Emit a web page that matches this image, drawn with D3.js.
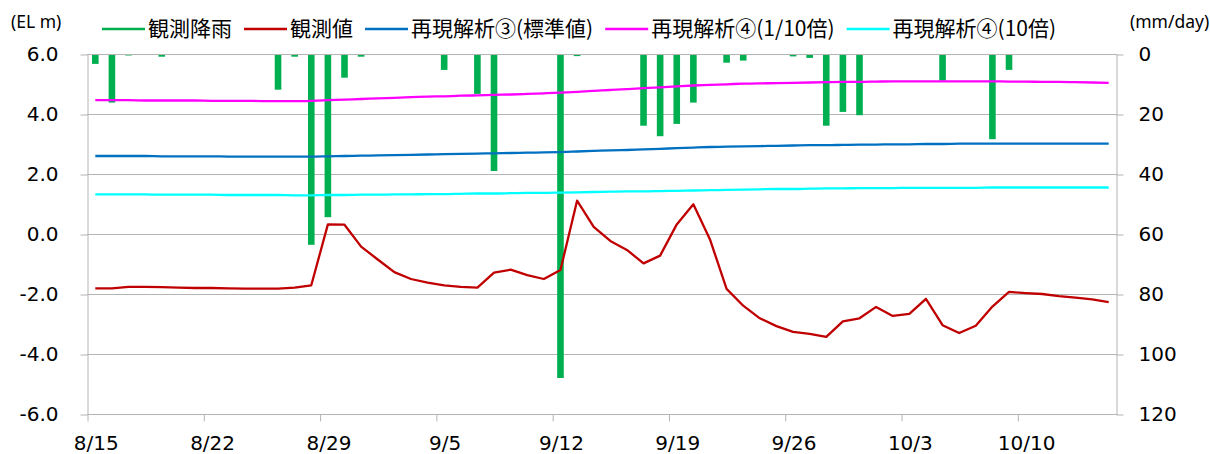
<!DOCTYPE html>
<html>
<head>
<meta charset="utf-8">
<script src="https://cdn.jsdelivr.net/npm/d3@7"></script>
<style>
  html, body { margin: 0; padding: 0; background: #ffffff; }
  svg { display: block; }
</style>
</head>
<body>
<svg id="chart" width="1210" height="454"></svg>
<script>
// Daily categories (month/day)
const dates = [
  "8/15","8/16","8/17","8/18","8/19","8/20","8/21","8/22","8/23","8/24","8/25","8/26","8/27","8/28","8/29","8/30","8/31",
  "9/1","9/2","9/3","9/4","9/5","9/6","9/7","9/8","9/9","9/10","9/11","9/12","9/13","9/14","9/15","9/16","9/17","9/18",
  "9/19","9/20","9/21","9/22","9/23","9/24","9/25","9/26","9/27","9/28","9/29","9/30",
  "10/1","10/2","10/3","10/4","10/5","10/6","10/7","10/8","10/9","10/10","10/11","10/12","10/13","10/14","10/15"
];

// Observed daily rainfall (mm/day)
const rainfall = [
  3.3, 16.2, 0.5, 0, 0.9, 0, 0, 0, 0, 0, 0, 11.9, 0.9, 63.6, 54.4, 7.9, 0.9,
  0, 0, 0, 0, 5.3, 0, 13.3, 39.0, 0, 0, 0, 108.0, 0.7, 0, 0, 0, 23.9, 27.4,
  23.3, 16.2, 0.3, 2.9, 2.2, 0, 0, 0.8, 1.3, 23.9, 19.3, 20.4,
  0, 0, 0, 0, 8.9, 0.3, 0, 28.4, 5.3, 0, 0, 0.3, 0, 0, 0
];

// Observed water level (EL m)
const observed = [
  -1.81, -1.81, -1.76, -1.76, -1.77, -1.79, -1.80, -1.80, -1.81, -1.82, -1.82, -1.82, -1.79, -1.71, 0.32, 0.31, -0.42,
  -0.85, -1.27, -1.50, -1.62, -1.71, -1.76, -1.79, -1.29, -1.19, -1.37, -1.50, -1.20, 1.11, 0.24, -0.23, -0.53, -0.98, -0.72,
  0.32, 0.99, -0.18, -1.83, -2.39, -2.81, -3.07, -3.26, -3.33, -3.43, -2.91, -2.81,
  -2.43, -2.73, -2.66, -2.16, -3.04, -3.30, -3.06, -2.42, -1.93, -1.97, -2.00, -2.07, -2.12, -2.18, -2.27
];

// Reanalysis case 3 (standard value)
const caseStandard = [
  2.60, 2.60, 2.60, 2.60, 2.59, 2.59, 2.59, 2.59, 2.58, 2.58, 2.58, 2.58, 2.58, 2.58, 2.59, 2.60, 2.61,
  2.62, 2.63, 2.64, 2.65, 2.66, 2.67, 2.68, 2.69, 2.70, 2.71, 2.72, 2.73, 2.75, 2.77, 2.79, 2.80, 2.82, 2.84,
  2.86, 2.88, 2.90, 2.91, 2.92, 2.93, 2.94, 2.95, 2.96, 2.96, 2.97, 2.98,
  2.98, 2.99, 2.99, 3.00, 3.00, 3.01, 3.01, 3.01, 3.01, 3.01, 3.01, 3.01, 3.01, 3.01, 3.01
];

// Reanalysis case 4 (1/10x)
const caseTenth = [
  4.46, 4.46, 4.46, 4.45, 4.45, 4.45, 4.45, 4.44, 4.44, 4.44, 4.43, 4.43, 4.43, 4.44, 4.46, 4.48, 4.50,
  4.52, 4.54, 4.56, 4.58, 4.59, 4.61, 4.62, 4.64, 4.65, 4.67, 4.69, 4.71, 4.74, 4.77, 4.80, 4.83, 4.86, 4.89,
  4.92, 4.95, 4.97, 4.99, 5.01, 5.02, 5.03, 5.04, 5.05, 5.06, 5.07, 5.07,
  5.08, 5.09, 5.09, 5.09, 5.09, 5.09, 5.09, 5.09, 5.08, 5.08, 5.07, 5.07, 5.06, 5.05, 5.04
];

// Reanalysis case 4 (10x)
const caseTenfold = [
  1.32, 1.32, 1.32, 1.32, 1.31, 1.31, 1.31, 1.31, 1.30, 1.30, 1.30, 1.30, 1.29, 1.29, 1.30, 1.30, 1.31,
  1.31, 1.32, 1.32, 1.33, 1.33, 1.34, 1.35, 1.35, 1.36, 1.37, 1.37, 1.38, 1.39, 1.40, 1.41, 1.42, 1.42, 1.43,
  1.44, 1.45, 1.46, 1.47, 1.48, 1.49, 1.50, 1.50, 1.51, 1.52, 1.52, 1.53,
  1.53, 1.53, 1.54, 1.54, 1.54, 1.54, 1.54, 1.55, 1.55, 1.55, 1.55, 1.55, 1.55, 1.55, 1.55
];

const dateTicks = ["8/15","8/22","8/29","9/5","9/12","9/19","9/26","10/3","10/10"];
const levelTicks = [-6, -4, -2, 0, 2, 4, 6];
const rainTicks = [0, 20, 40, 60, 80, 100, 120];

const legendItems = [
  { label: "観測降雨", color: "#00B050" },
  { label: "観測値", color: "#C00000" },
  { label: "再現解析③(標準値)", color: "#0070C0" },
  { label: "再現解析④(1/10倍)", color: "#FF00FF" },
  { label: "再現解析④(10倍)", color: "#00FFFF" }
];

// ---- layout ----
const plot = { left: 87, right: 1117, top: 54, bottom: 414 };
const numFont = "'DejaVu Sans', Verdana, sans-serif";
const jpFont = "'Noto Sans CJK JP', 'Noto Sans', sans-serif";
const gridColor = "#B4B4B4";

const parse = s => d3.timeParse("%Y/%m/%d")("2021/" + s);
const days = dates.map(parse);
const endDay = d3.timeDay.offset(days[days.length - 1], 1);

const x = d3.scaleTime().domain([days[0], endDay]).range([plot.left, plot.right]);
const dayW = x(d3.timeDay.offset(days[0], 1)) - x(days[0]);
const cx = d => x(d) + dayW / 2;

const y = d3.scaleLinear().domain([-6, 6]).range([plot.bottom, plot.top]);
const yR = d3.scaleLinear().domain([0, 120]).range([plot.top, plot.bottom]);

const svg = d3.select("#chart");
svg.append("rect").attr("width", 1210).attr("height", 454).attr("fill", "#fff");

// horizontal gridlines
svg.append("g")
  .selectAll("line")
  .data(levelTicks)
  .join("line")
  .attr("x1", plot.left).attr("x2", plot.right)
  .attr("y1", d => Math.round(y(d)) + 0.5).attr("y2", d => Math.round(y(d)) + 0.5)
  .attr("stroke", gridColor).attr("stroke-width", 1);

// left axis
const gL = svg.append("g")
  .attr("transform", `translate(${plot.left + 0.5},0.5)`)
  .call(d3.axisLeft(y).tickValues(levelTicks).tickSize(7).tickSizeOuter(0).tickPadding(22)
    .tickFormat(v => v.toFixed(1)));
// right axis
const gR = svg.append("g")
  .attr("transform", `translate(${plot.right - 0.5},0.5)`)
  .call(d3.axisRight(yR).tickValues(rainTicks).tickSize(7).tickSizeOuter(0).tickPadding(15));
// bottom axis
const gB = svg.append("g")
  .attr("transform", `translate(0.5,${plot.bottom + 0.5})`)
  .call(d3.axisBottom(x).tickValues(dateTicks.map(parse)).tickSize(7).tickSizeOuter(0).tickPadding(14)
    .tickFormat(d3.timeFormat("%-m/%-d")));
gB.selectAll(".tick text").attr("x", dayW / 2);

[gL, gR, gB].forEach(g => {
  g.selectAll("path.domain").attr("stroke", gridColor);
  g.selectAll(".tick line").attr("stroke", gridColor);
  g.selectAll(".tick text")
    .attr("font-family", numFont).attr("font-size", 20).attr("fill", "#000");
});
gB.select("path.domain").remove();
svg.append("line")
  .attr("x1", plot.left).attr("x2", plot.right)
  .attr("y1", plot.bottom + 0.5).attr("y2", plot.bottom + 0.5)
  .attr("stroke", gridColor);

// axis unit labels
svg.append("text").attr("x", 11).attr("y", 28)
  .attr("font-family", "'Noto Sans', sans-serif").attr("font-size", 17.5).attr("fill", "#000")
  .text("(EL m)");
svg.append("text").attr("x", 1130).attr("y", 28)
  .attr("font-family", "'Noto Sans', sans-serif").attr("font-size", 17.5).attr("fill", "#000")
  .text("(mm/day)");

// rainfall bars hanging from the top
svg.append("g")
  .selectAll("rect")
  .data(days.map((d, i) => ({ d, v: rainfall[i] })).filter(e => e.v > 0))
  .join("rect")
  .attr("x", e => cx(e.d) - 3.3)
  .attr("width", 6.6)
  .attr("y", yR(0) + 1)
  .attr("height", e => Math.max(0, yR(e.v) - yR(0) - 1))
  .attr("fill", "#00B050");

// water level lines
const seriesLines = [
  { values: observed, color: "#C00000", curve: d3.curveLinear },
  { values: caseStandard, color: "#0070C0", curve: d3.curveMonotoneX },
  { values: caseTenth, color: "#FF00FF", curve: d3.curveMonotoneX },
  { values: caseTenfold, color: "#00FFFF", curve: d3.curveMonotoneX }
];
seriesLines.forEach(s => {
  const line = d3.line().x((v, i) => cx(days[i])).y(v => y(v)).curve(s.curve);
  svg.append("path")
    .attr("d", line(s.values))
    .attr("fill", "none")
    .attr("stroke", s.color)
    .attr("stroke-width", 2.3)
    .attr("stroke-linejoin", "round");
});

// legend
const legend = svg.append("g");
let lx = 102;
const ly = 29;
legendItems.forEach(item => {
  legend.append("line")
    .attr("x1", lx).attr("x2", lx + 43)
    .attr("y1", ly).attr("y2", ly)
    .attr("stroke", item.color).attr("stroke-width", 2.3);
  const t = legend.append("text")
    .attr("x", lx + 46).attr("y", ly + 7)
    .attr("font-family", jpFont).attr("font-size", 21).attr("fill", "#000")
    .text(item.label);
  lx += 46 + t.node().getComputedTextLength() + 12;
});
</script>
</body>
</html>
